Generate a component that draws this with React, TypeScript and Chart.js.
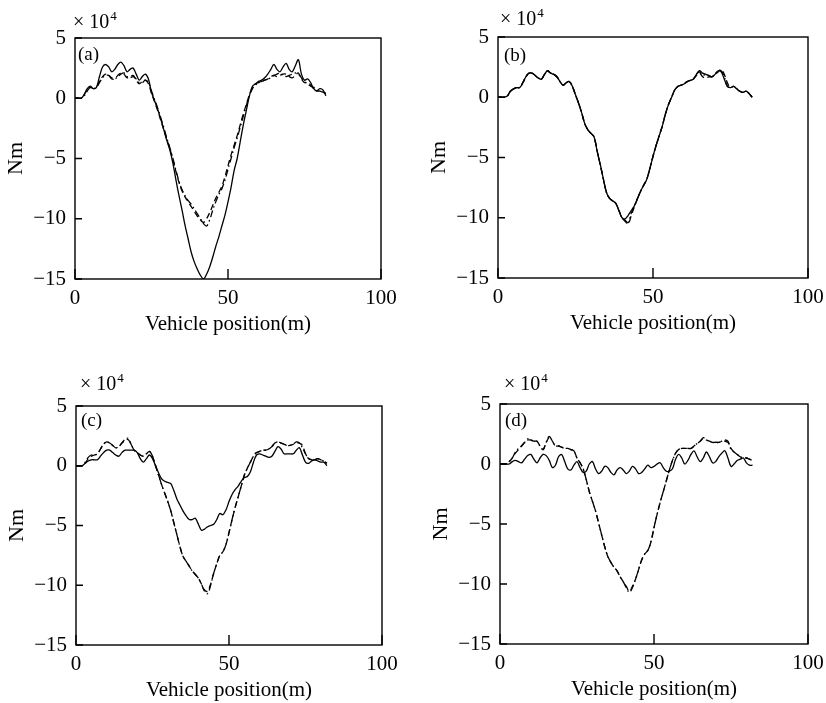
import React, { useEffect, useRef } from "react";
import { Chart, registerables } from "chart.js";

Chart.register(...registerables);

// Vehicle position (m)
const POSITIONS = [
  0, 1, 2, 3, 4, 5, 6, 7, 8, 9, 10, 11, 12, 13, 14, 15, 16, 17, 18, 19, 20,
  21, 22, 23, 24, 25, 26, 27, 28, 29, 30, 31, 32, 33, 34, 35, 36, 37, 38, 39, 40,
  41, 42, 43, 44, 45, 46, 47, 48, 49, 50, 51, 52, 53, 54, 55, 56, 57, 58, 59, 60,
  61, 62, 63, 64, 65, 66, 67, 68, 69, 70, 71, 72, 73, 74, 75, 76, 77, 78, 79, 80,
  81, 82,
];

const X_TICKS = [0, 50, 100];
const Y_TICKS = [5, 0, -5, -10, -15];

// Values in units of x10^4 Nm
const A_SOLID = [
  0, 0, 0, 0.3, 0.8, 1.0, 0.8, 0.9, 1.8, 2.6,
  2.8, 2.6, 2.2, 2.4, 2.8, 3.0, 2.7, 2.2, 2.4, 2.5,
  2.0, 1.5, 1.8, 2.0, 1.6, 0.5, -0.2, -0.9, -1.7, -2.6,
  -3.5, -4.3, -5.4, -6.8, -8.1, -9.3, -10.6, -11.7, -12.8, -13.6,
  -14.2, -14.7, -15.0, -14.6, -14.0, -13.2, -12.3, -11.5, -10.6, -9.7,
  -8.6, -7.4, -6.0, -5.0, -3.6, -2.2, -1.0, 0.2, 1.0, 1.2,
  1.4, 1.5, 1.7, 2.0, 2.4, 2.8, 2.4, 2.2, 2.6, 2.9,
  2.4, 2.2, 2.7, 3.2, 2.0, 1.5, 1.6, 1.3, 0.8, 0.6,
  0.8, 0.7, 0.2,
];
const A_DASHED = [
  0, 0, 0, 0.3, 0.7, 0.9, 0.8, 0.9, 1.4, 1.8,
  2.0, 1.9, 1.6, 1.6, 1.9, 2.1, 2.0, 1.7, 1.8, 1.9,
  1.5, 1.2, 1.4, 1.5, 1.2, 0.4, -0.3, -1.0, -1.8, -2.6,
  -3.4, -4.2, -5.1, -6.1, -7.0, -7.7, -8.2, -8.6, -9.0, -9.4,
  -9.8, -10.1, -10.3, -10.0, -9.5, -8.9, -8.3, -7.8, -7.3, -6.5,
  -5.6, -4.7, -3.9, -3.1, -2.2, -1.3, -0.5, 0.3, 0.9, 1.2,
  1.3, 1.4, 1.5, 1.6, 1.8, 1.9, 1.8, 1.9, 2.0, 2.0,
  1.8, 1.7, 1.9, 2.1, 1.6, 1.3, 1.3, 1.1, 0.8, 0.6,
  0.6, 0.5, 0.4,
];
const A_DASHDOT = [
  0, 0, 0, 0.2, 0.6, 0.9, 0.8, 0.9, 1.3, 1.7,
  1.9, 1.9, 1.7, 1.6, 1.8, 2.0, 2.1, 1.8, 1.7, 1.8,
  1.6, 1.3, 1.3, 1.5, 1.3, 0.6, -0.1, -0.8, -1.6, -2.4,
  -3.3, -4.1, -5.0, -6.0, -6.9, -7.6, -8.1, -8.5, -8.8, -9.2,
  -9.6, -10.0, -10.4, -10.6, -10.1, -9.3, -8.6, -8.0, -7.5, -6.8,
  -5.9, -5.0, -4.1, -3.3, -2.4, -1.5, -0.6, 0.2, 0.8, 1.1,
  1.3, 1.4, 1.5, 1.6, 1.7, 1.9, 2.0, 2.1, 1.9, 1.8,
  1.9, 2.0, 2.1, 2.0, 1.7, 1.4, 1.2, 1.0, 0.9, 0.7,
  0.6, 0.5, 0.4,
];

const B_SOLID = [
  0, 0, 0, 0.1, 0.5, 0.7, 0.8, 0.8, 1.2, 1.7,
  2.0, 2.0, 1.8, 1.6, 1.5, 1.9, 2.2, 2.0, 1.9, 1.7,
  1.3, 1.0, 1.2, 1.3, 0.9, 0.2, -0.5, -1.3, -2.2, -2.7,
  -3.0, -3.3, -4.5, -5.6, -6.8, -7.9, -8.4, -8.6, -8.8, -9.4,
  -10.0, -10.1, -9.8, -9.4, -9.0, -8.4, -7.8, -7.3, -6.8, -5.9,
  -4.9, -4.0, -3.2, -2.4, -1.4, -0.6, 0.0, 0.6, 0.9, 1.0,
  1.1, 1.3, 1.4, 1.5, 1.9, 2.2, 2.0, 1.9, 1.8, 1.7,
  1.9, 2.2, 2.1, 1.5, 0.9, 0.8, 0.9, 0.7, 0.5, 0.4,
  0.5, 0.3, 0.0,
];
const B_DASHED = [
  0, 0, 0, 0.1, 0.5, 0.7, 0.8, 0.8, 1.2, 1.7,
  2.0, 2.0, 1.8, 1.6, 1.5, 1.9, 2.2, 2.0, 1.9, 1.7,
  1.3, 1.0, 1.2, 1.3, 0.9, 0.2, -0.5, -1.3, -2.2, -2.7,
  -3.0, -3.3, -4.5, -5.6, -6.8, -7.9, -8.4, -8.6, -8.8, -9.4,
  -10.0, -10.3, -10.5, -9.8, -9.1, -8.4, -7.8, -7.3, -6.8, -5.9,
  -4.9, -4.0, -3.2, -2.4, -1.4, -0.6, 0.0, 0.6, 0.9, 1.0,
  1.1, 1.3, 1.4, 1.5, 1.8, 2.0, 1.7, 1.6, 1.7, 1.7,
  1.9, 2.1, 2.3, 1.9, 1.2, 0.8, 0.9, 0.7, 0.5, 0.4,
  0.5, 0.3, 0.0,
];
const B_DASHDOT = [
  0, 0, 0, 0.1, 0.5, 0.7, 0.8, 0.8, 1.2, 1.7,
  2.0, 2.0, 1.8, 1.6, 1.5, 1.9, 2.1, 2.0, 1.9, 1.7,
  1.3, 1.0, 1.2, 1.3, 0.9, 0.2, -0.5, -1.3, -2.2, -2.7,
  -3.0, -3.3, -4.5, -5.6, -6.8, -7.9, -8.4, -8.6, -8.8, -9.4,
  -10.0, -10.2, -10.4, -9.6, -9.0, -8.4, -7.8, -7.3, -6.8, -5.9,
  -4.9, -4.0, -3.2, -2.4, -1.4, -0.6, 0.0, 0.6, 0.9, 1.0,
  1.1, 1.3, 1.4, 1.5, 1.9, 2.1, 1.8, 1.9, 1.8, 1.7,
  1.9, 2.2, 2.2, 1.7, 0.9, 0.8, 0.9, 0.7, 0.5, 0.4,
  0.5, 0.3, 0.0,
];

const C_SOLID = [
  0, 0, 0, 0.2, 0.4, 0.5, 0.5, 0.5, 0.8, 1.1,
  1.3, 1.3, 1.1, 0.9, 0.8, 1.1, 1.3, 1.3, 1.3, 1.3,
  1.1, 0.6, 0.3, 0.6, 0.9, 0.6, 0.0, -0.6, -1.1, -1.3,
  -1.4, -1.5, -2.1, -2.8, -3.3, -3.8, -4.2, -4.5, -4.5, -4.4,
  -4.9, -5.4, -5.3, -5.1, -5.0, -4.9, -4.5, -4.0, -4.1, -3.7,
  -3.0, -2.4, -2.0, -1.7, -1.3, -1.0, -0.9, -0.5, 0.3, 0.9,
  1.0, 0.9, 0.8, 0.7, 0.8, 1.2, 1.6, 1.4, 1.0, 1.0,
  1.0, 1.0, 1.3, 1.5, 0.9, 0.3, 0.2, 0.4, 0.5, 0.4,
  0.3, 0.3, 0.0,
];
const C_DASHED = [
  0, 0, 0, 0.2, 0.6, 0.8, 0.9, 1.0, 1.4, 1.8,
  2.0, 1.9, 1.7, 1.5, 1.6, 1.9, 2.1, 2.2, 1.8, 1.3,
  1.1, 0.9, 0.8, 1.0, 1.2, 0.8, 0.0, -0.8, -1.6, -2.3,
  -3.0, -3.8, -4.8, -5.8, -6.8, -7.6, -8.0, -8.4, -8.8, -9.1,
  -9.4, -9.9, -10.4, -10.5, -9.9, -9.0, -8.2, -7.5, -7.2, -6.6,
  -5.6, -4.5, -3.5, -2.6, -1.7, -0.8, -0.2, 0.3, 0.8, 1.1,
  1.2, 1.3, 1.3, 1.4, 1.6, 1.9, 2.0, 1.9, 1.8, 1.7,
  1.7, 1.8, 1.9, 1.9, 1.7, 1.0, 0.6, 0.5, 0.5, 0.6,
  0.5, 0.4, 0.2,
];
const C_DASHDOT = [
  0, 0, 0, 0.3, 0.7, 0.9, 0.9, 1.0, 1.4, 1.8,
  2.0, 1.9, 1.7, 1.5, 1.6, 1.9, 2.2, 2.3, 1.8, 1.3,
  1.1, 0.9, 0.8, 1.0, 1.2, 0.8, 0.0, -0.8, -1.6, -2.3,
  -3.0, -3.8, -4.8, -5.8, -6.8, -7.6, -8.0, -8.4, -8.8, -9.1,
  -9.4, -9.9, -10.5, -10.7, -10.0, -9.0, -8.2, -7.5, -7.2, -6.6,
  -5.6, -4.5, -3.5, -2.6, -1.7, -0.8, -0.2, 0.3, 0.8, 1.1,
  1.2, 1.3, 1.3, 1.4, 1.6, 1.9, 2.0, 1.9, 1.8, 1.7,
  1.7, 1.8, 2.0, 1.9, 1.5, 1.0, 0.6, 0.5, 0.5, 0.6,
  0.5, 0.4, 0.2,
];

const D_SOLID = [
  0, 0, 0, 0.0, 0.2, 0.3, 0.2, 0.1, 0.4, 0.7,
  0.8, 0.4, 0.1, 0.5, 0.8, 0.7, 0.3, -0.3, -0.1, 0.6,
  0.8, 0.2, -0.4, -0.5, -0.1, 0.2, -0.3, -0.7, -0.6, 0.0,
  0.2, -0.4, -0.8, -0.6, -0.2, -0.3, -0.7, -0.9, -0.5, -0.3,
  -0.5, -0.8, -0.6, -0.2, -0.4, -0.8, -0.7, -0.4, -0.1, -0.3,
  -0.2, 0.0, 0.1, -0.3, -0.6, -0.6, -0.4, 0.4, 0.8, 0.5,
  0.0, 0.3, 0.8, 1.1, 0.6, 0.2, 0.5, 1.0, 0.6, 0.1,
  0.2, 0.6, 0.9, 1.1, 0.5, -0.2, 0.0, 0.3, 0.4, 0.5,
  0.1, -0.1, -0.1,
];
const D_DASHED = [
  0, 0, 0, 0.2, 0.5, 0.9, 1.2, 1.5, 1.8, 2.0,
  2.0, 1.9, 1.9, 1.5, 1.2, 1.8, 2.2, 1.9, 1.5, 1.5,
  1.4, 1.3, 1.3, 1.2, 1.1, 0.5, 0.1, -0.4, -1.3, -2.3,
  -3.1, -3.9, -4.9, -5.9, -6.9, -7.7, -8.2, -8.6, -8.9, -9.4,
  -9.8, -10.2, -10.6, -10.2, -9.6, -8.8, -8.0, -7.5, -7.2, -6.5,
  -5.3, -4.2, -3.2, -2.3, -1.4, -0.5, 0.3, 0.9, 1.2, 1.3,
  1.3, 1.3, 1.3, 1.5, 1.7, 1.9, 2.1, 2.0, 1.9, 1.8,
  1.8, 1.8, 1.9, 1.9, 1.8, 1.3, 1.0, 0.8, 0.6, 0.5,
  0.5, 0.4, 0.3,
];
const D_DASHDOT = [
  0, 0, 0, 0.2, 0.5, 1.0, 1.3, 1.5, 1.8, 2.1,
  2.0, 1.9, 1.9, 1.5, 1.2, 1.8, 2.3, 1.9, 1.5, 1.5,
  1.4, 1.3, 1.3, 1.2, 1.1, 0.5, 0.1, -0.4, -1.3, -2.3,
  -3.1, -3.9, -4.9, -5.9, -6.9, -7.7, -8.2, -8.6, -8.9, -9.4,
  -9.8, -10.3, -10.7, -10.3, -9.6, -8.8, -8.0, -7.5, -7.2, -6.5,
  -5.3, -4.2, -3.2, -2.3, -1.4, -0.5, 0.3, 0.9, 1.2, 1.3,
  1.3, 1.3, 1.3, 1.5, 1.7, 1.9, 2.2, 2.0, 1.9, 1.8,
  1.8, 1.8, 1.9, 2.0, 1.9, 1.2, 1.0, 0.8, 0.6, 0.5,
  0.5, 0.4, 0.3,
];

const TAGS = ["(a)", "(b)", "(c)", "(d)"];
const X_TITLE = "Vehicle position(m)";
const Y_TITLE = "Nm";

const FONT = "'Liberation Serif', 'Times New Roman', Times, serif";
const PAD_L = 75;
const PAD_T = 40;
const PAD_R = 25;
const PAD_B = 62;

type PanelCfg = {
  box: [number, number, number, number];
  tag: string;
  tagOff: [number, number];
  expOff: [number, number];
  solid: number[];
  dashed: number[];
  dashdot: number[];
};

const PANELS: PanelCfg[] = [
  { box: [75, 38, 381, 279], tag: TAGS[0], tagOff: [3, 22], expOff: [-2, 10], solid: A_SOLID, dashed: A_DASHED, dashdot: A_DASHDOT },
  { box: [498, 37, 808, 278], tag: TAGS[1], tagOff: [6, 24], expOff: [2, 12], solid: B_SOLID, dashed: B_DASHED, dashdot: B_DASHDOT },
  { box: [76, 406, 382, 645], tag: TAGS[2], tagOff: [5, 20], expOff: [4, 16], solid: C_SOLID, dashed: C_DASHED, dashdot: C_DASHDOT },
  { box: [500, 404, 808, 644], tag: TAGS[3], tagOff: [5, 22], expOff: [4, 14], solid: D_SOLID, dashed: D_DASHED, dashdot: D_DASHDOT },
];

const fmt = (v: number | string) => String(v).replace("-", "\u2212");

const framePlugin = {
  id: "frame",
  afterDraw(chart: any, _args: any, opts: any) {
    const ctx = chart.ctx as CanvasRenderingContext2D;
    const { left, top, right, bottom } = chart.chartArea;
    const xs = chart.scales.x;
    const ys = chart.scales.y;
    ctx.save();
    ctx.strokeStyle = "#000";
    ctx.fillStyle = "#000";
    ctx.lineWidth = 1.4;
    ctx.setLineDash([]);
    ctx.strokeRect(left, top, right - left, bottom - top);
    ctx.beginPath();
    for (const v of X_TICKS) {
      const px = xs.getPixelForValue(v);
      ctx.moveTo(px, bottom);
      ctx.lineTo(px, bottom - 10);
    }
    for (const v of Y_TICKS) {
      const py = ys.getPixelForValue(v);
      ctx.moveTo(left, py);
      ctx.lineTo(left + 7, py);
    }
    ctx.stroke();

    ctx.textBaseline = "alphabetic";
    ctx.font = `21px ${FONT}`;
    ctx.textAlign = "center";
    ctx.fillText(X_TITLE, (left + right) / 2, bottom + 51);

    ctx.save();
    ctx.translate(left - 53, (top + bottom) / 2);
    ctx.rotate(-Math.PI / 2);
    ctx.font = `22px ${FONT}`;
    ctx.fillText(Y_TITLE, 0, 0);
    ctx.restore();

    ctx.textAlign = "left";
    ctx.font = `20px ${FONT}`;
    const ex = left + opts.expOff[0];
    const ey = top - opts.expOff[1];
    const base = "\u00d7 10";
    ctx.fillText(base, ex, ey);
    const w = ctx.measureText(base).width;
    ctx.font = `13px ${FONT}`;
    ctx.fillText("4", ex + w + 1, ey - 8);

    ctx.font = `19px ${FONT}`;
    ctx.fillText(opts.tag, left + opts.tagOff[0], top + opts.tagOff[1]);
    ctx.restore();
  },
};

function mk(values: number[], dash: number[]) {
  return {
    data: POSITIONS.map((x, i) => ({ x, y: values[i] })),
    borderColor: "#000",
    borderWidth: 1.3,
    borderDash: dash,
    pointRadius: 0,
    tension: 0.35,
    fill: false,
  };
}

function Panel({ cfg }: { cfg: PanelCfg }) {
  const ref = useRef<HTMLCanvasElement>(null);
  const [L, T, R, B] = cfg.box;
  const W = R - L + PAD_L + PAD_R;
  const H = B - T + PAD_T + PAD_B;
  useEffect(() => {
    if (!ref.current) return;
    const chart = new Chart(ref.current, {
      type: "line",
      data: {
        datasets: [
          mk(cfg.dashdot, [7, 3, 1.5, 3]),
          mk(cfg.dashed, [6, 3.5]),
          mk(cfg.solid, []),
        ],
      },
      options: {
        animation: false,
        responsive: false,
        events: [],
        layout: { padding: { top: PAD_T, right: PAD_R, left: 0, bottom: 0 } },
        plugins: {
          legend: { display: false },
          tooltip: { enabled: false },
          frame: { tag: cfg.tag, tagOff: cfg.tagOff, expOff: cfg.expOff },
        } as any,
        scales: {
          x: {
            type: "linear",
            min: 0,
            max: 100,
            afterFit: (s: any) => {
              s.height = PAD_B;
            },
            afterBuildTicks: (s: any) => {
              s.ticks = X_TICKS.map((v) => ({ value: v }));
            },
            grid: { display: false, drawTicks: false },
            border: { display: false },
            ticks: {
              padding: 7,
              color: "#000",
              font: { family: FONT, size: 21 },
              maxRotation: 0,
              autoSkip: false,
              callback: (v: any) => fmt(v),
            },
          },
          y: {
            type: "linear",
            min: -15,
            max: 5,
            afterFit: (s: any) => {
              s.width = PAD_L;
            },
            afterBuildTicks: (s: any) => {
              s.ticks = Y_TICKS.map((v) => ({ value: v }));
            },
            grid: { display: false, drawTicks: false },
            border: { display: false },
            ticks: {
              padding: 9,
              color: "#000",
              font: { family: FONT, size: 21 },
              autoSkip: false,
              callback: (v: any) => fmt(v),
            },
          },
        },
      },
      plugins: [framePlugin],
    } as any);
    return () => chart.destroy();
  }, []);
  return (
    <canvas
      ref={ref}
      width={W}
      height={H}
      style={{ position: "absolute", left: L - PAD_L, top: T - PAD_T, width: W, height: H }}
    />
  );
}

export default function App() {
  return (
    <div style={{ position: "absolute", left: 0, top: 0, width: 826, height: 703, background: "#fff" }}>
      {PANELS.map((p, i) => (
        <Panel key={i} cfg={p} />
      ))}
    </div>
  );
}
